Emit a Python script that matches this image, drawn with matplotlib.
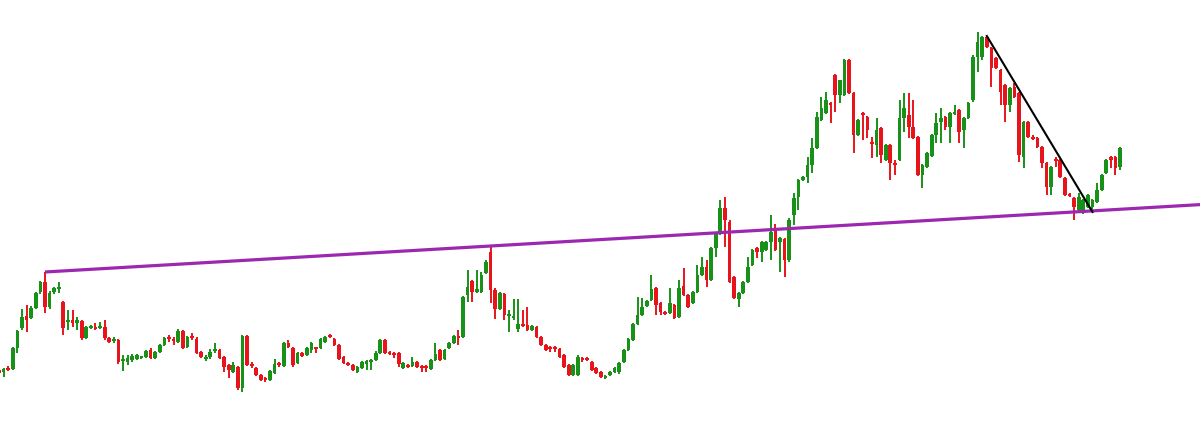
import numpy as np
import matplotlib
matplotlib.use('Agg')
import matplotlib.pyplot as plt

# Daily candles, price units (one unit ~ one pixel of the original chart)
opens = [52, 50, 54, 53, 74, 94, 106, 104, 114, 130, 140, 115, 130, 133, 120, 100, 102, 99, 101, 84,
         94, 95, 94, 95, 84, 81, 82, 61, 60, 62, 63, 64, 65, 72, 64, 70, 77, 85, 83, 80,
         91, 75, 86, 83, 70, 63, 65, 71, 72, 65, 57, 50, 55, 34, 86, 58, 54, 47, 44, 42,
         49, 59, 56, 79, 74, 59, 69, 67, 72, 75, 74, 80, 87, 83, 77, 65, 59, 57, 50, 54,
         58, 60, 62, 69, 82, 70, 69, 69, 54, 57, 56, 60, 56, 56, 53, 62, 72, 63, 74, 79,
         86, 85, 127, 141, 130, 130, 149, 170, 132, 113, 128, 106, 104, 93, 98, 97, 92, 95, 85, 77,
         75, 75, 73, 67, 57, 47, 47, 64, 64, 60, 54, 50, 44, 47, 50, 50, 60, 72, 82, 98,
         107, 116, 122, 134, 119, 110, 109, 117, 105, 136, 127, 119, 130, 147, 155, 142, 174, 188, 214, 200,
         145, 123, 129, 140, 157, 174, 170, 172, 180, 194, 180, 183, 162, 207, 225, 242, 245, 257, 274, 302,
         309, 319, 347, 327, 327, 362, 329, 287, 309, 305, 280, 277, 294, 262, 277, 259, 262, 304, 307, 295,
         285, 247, 255, 266, 287, 300, 305, 295, 308, 312, 292, 304, 322, 365, 365, 385, 374, 364, 352, 337,
         317, 335, 329, 265, 300, 285, 284, 275, 259, 235, 263, 262, 244, 228, 224, 212, 209, 215, 215, 220,
         232, 249, 265, 265, 255]
highs = [53, 54, 56, 75, 92, 113, 117, 116, 130, 141, 150, 131, 135, 140, 121, 112, 112, 105, 102, 96,
         97, 99, 100, 102, 85, 85, 83, 67, 67, 68, 68, 66, 72, 74, 71, 78, 85, 87, 85, 93,
         92, 86, 89, 85, 71, 67, 73, 79, 73, 66, 58, 60, 56, 87, 87, 60, 55, 48, 45, 52,
         63, 60, 80, 82, 75, 70, 70, 75, 80, 75, 84, 86, 88, 84, 78, 66, 60, 58, 56, 61,
         62, 63, 71, 83, 83, 71, 70, 70, 60, 58, 65, 61, 57, 57, 63, 79, 73, 73, 80, 87,
         92, 126, 152, 142, 152, 150, 162, 177, 134, 130, 129, 112, 123, 123, 112, 115, 97, 96, 86, 78,
         76, 76, 74, 68, 58, 58, 67, 65, 65, 61, 55, 51, 47, 51, 55, 60, 73, 84, 99, 125,
         124, 122, 147, 135, 120, 111, 134, 118, 142, 154, 128, 131, 157, 165, 162, 175, 189, 222, 225, 202,
         146, 130, 141, 165, 173, 175, 181, 181, 207, 198, 185, 184, 204, 229, 243, 246, 265, 284, 310, 325,
         330, 320, 348, 342, 363, 363, 330, 303, 310, 306, 285, 304, 295, 278, 278, 262, 322, 329, 329, 322,
         286, 258, 270, 288, 309, 314, 306, 310, 317, 313, 305, 320, 367, 390, 386, 386, 375, 365, 353, 338,
         335, 339, 330, 301, 301, 287, 285, 276, 260, 256, 265, 263, 245, 229, 225, 229, 223, 228, 223, 239,
         248, 263, 266, 266, 275]
lows = [47, 45, 51, 52, 69, 92, 90, 103, 113, 128, 109, 113, 128, 129, 87, 92, 95, 92, 82, 83,
        93, 92, 93, 82, 79, 79, 58, 51, 57, 60, 62, 63, 64, 63, 63, 69, 76, 80, 77, 79,
        73, 74, 82, 68, 64, 61, 63, 69, 63, 50, 44, 49, 32, 30, 56, 54, 46, 41, 40, 41,
        48, 55, 55, 74, 55, 58, 65, 66, 69, 69, 73, 79, 84, 76, 62, 58, 56, 51, 49, 53,
        52, 52, 61, 68, 68, 67, 64, 55, 53, 54, 55, 54, 50, 50, 52, 61, 61, 62, 73, 78,
        77, 84, 120, 120, 129, 129, 148, 119, 103, 112, 102, 90, 102, 90, 95, 91, 91, 84, 76, 71,
        70, 70, 64, 54, 46, 46, 46, 60, 61, 51, 48, 44, 43, 46, 49, 48, 59, 71, 81, 97,
        106, 115, 121, 107, 107, 107, 108, 103, 104, 126, 114, 118, 129, 146, 135, 141, 165, 187, 175, 139,
        123, 115, 128, 139, 156, 164, 160, 171, 162, 171, 150, 145, 160, 197, 212, 241, 239, 249, 273, 301,
        308, 299, 310, 319, 326, 328, 269, 286, 282, 284, 264, 265, 259, 261, 242, 247, 261, 290, 284, 283,
        246, 234, 254, 265, 279, 279, 292, 279, 307, 279, 274, 303, 320, 350, 362, 374, 335, 353, 317, 300,
        310, 324, 260, 254, 284, 282, 274, 254, 227, 227, 255, 244, 226, 225, 202, 211, 208, 214, 212, 219,
        231, 248, 254, 247, 252]
closes = [49, 53, 52, 74, 91, 105, 102, 114, 129, 140, 115, 129, 134, 135, 94, 102, 99, 102, 84, 95,
          96, 93, 96, 84, 80, 83, 60, 63, 64, 66, 67, 65, 71, 64, 70, 77, 84, 83, 81, 91,
          74, 85, 84, 69, 65, 65, 70, 73, 64, 55, 52, 57, 34, 86, 57, 56, 47, 42, 42, 51,
          58, 57, 79, 75, 57, 69, 66, 74, 79, 73, 83, 85, 85, 77, 63, 59, 57, 52, 55, 60,
          61, 62, 69, 82, 69, 68, 67, 58, 59, 55, 60, 55, 54, 54, 62, 68, 62, 72, 79, 86,
          84, 125, 135, 130, 133, 147, 160, 132, 113, 129, 107, 108, 106, 98, 96, 92, 96, 85, 77, 72,
          73, 73, 65, 55, 47, 57, 65, 62, 62, 52, 49, 45, 46, 50, 54, 59, 72, 83, 98, 107,
          115, 121, 133, 117, 110, 108, 119, 104, 134, 127, 115, 130, 147, 155, 142, 174, 188, 214, 202, 140,
          124, 129, 140, 155, 172, 170, 180, 180, 190, 172, 184, 162, 202, 224, 242, 245, 257, 274, 305, 314,
          322, 317, 327, 342, 362, 329, 287, 302, 307, 292, 278, 292, 267, 277, 259, 257, 304, 314, 295, 284,
          247, 257, 269, 287, 299, 304, 295, 309, 310, 290, 304, 319, 365, 380, 385, 375, 354, 354, 330, 317,
          334, 325, 267, 300, 285, 283, 275, 259, 235, 255, 261, 245, 227, 226, 215, 225, 222, 227, 222, 232,
          247, 262, 262, 254, 274]

# Hand-drawn lines: (candle index, price) end points
support_x = [10, 107]
support_y = [150, 176]
trend_x = [215, 238]
trend_y = [386, 210]

UP_COLOR = '#189118'
DOWN_COLOR = '#e8141c'


def plot_candles(ax, o, h, l, c):
    """Draw wicks and bodies for every candle."""
    o, h, l, c = map(np.asarray, (o, h, l, c))
    x = np.arange(len(o))
    up = c >= o
    colors = np.where(up, UP_COLOR, DOWN_COLOR)

    ax.vlines(x, l, h, colors=colors, linewidth=1.4, zorder=2)

    bottom = np.minimum(o, c)
    height = np.maximum(np.abs(c - o), 1.8)
    ax.bar(x, height, bottom=bottom, width=0.8, color=colors, linewidth=0, zorder=3)
    return x


fig = plt.figure(figsize=(12, 4.22), dpi=100)
ax = fig.add_axes([0, 0, 1, 1])
fig.patch.set_facecolor('white')

x = plot_candles(ax, opens, highs, lows, closes)

# x limits so candle spacing matches the reference (~4.6 px per candle)
x_min, x_max = 0.22, 261.4
ax.set_xlim(x_min, x_max)
ax.set_ylim(0, 422)

# Support line, extended to the right edge
slope = (support_y[1] - support_y[0]) / (support_x[1] - support_x[0])
ax.plot([support_x[0], x_max], [support_y[0], support_y[0] + slope * (x_max - support_x[0])],
        color='#9c27b0', linewidth=2.3, solid_capstyle='butt', zorder=4)

# Down trend line
ax.plot(trend_x, trend_y, color='black', linewidth=1.5, zorder=4)

ax.axis('off')
plt.savefig('out.png', dpi=100, facecolor='white')
plt.close()
